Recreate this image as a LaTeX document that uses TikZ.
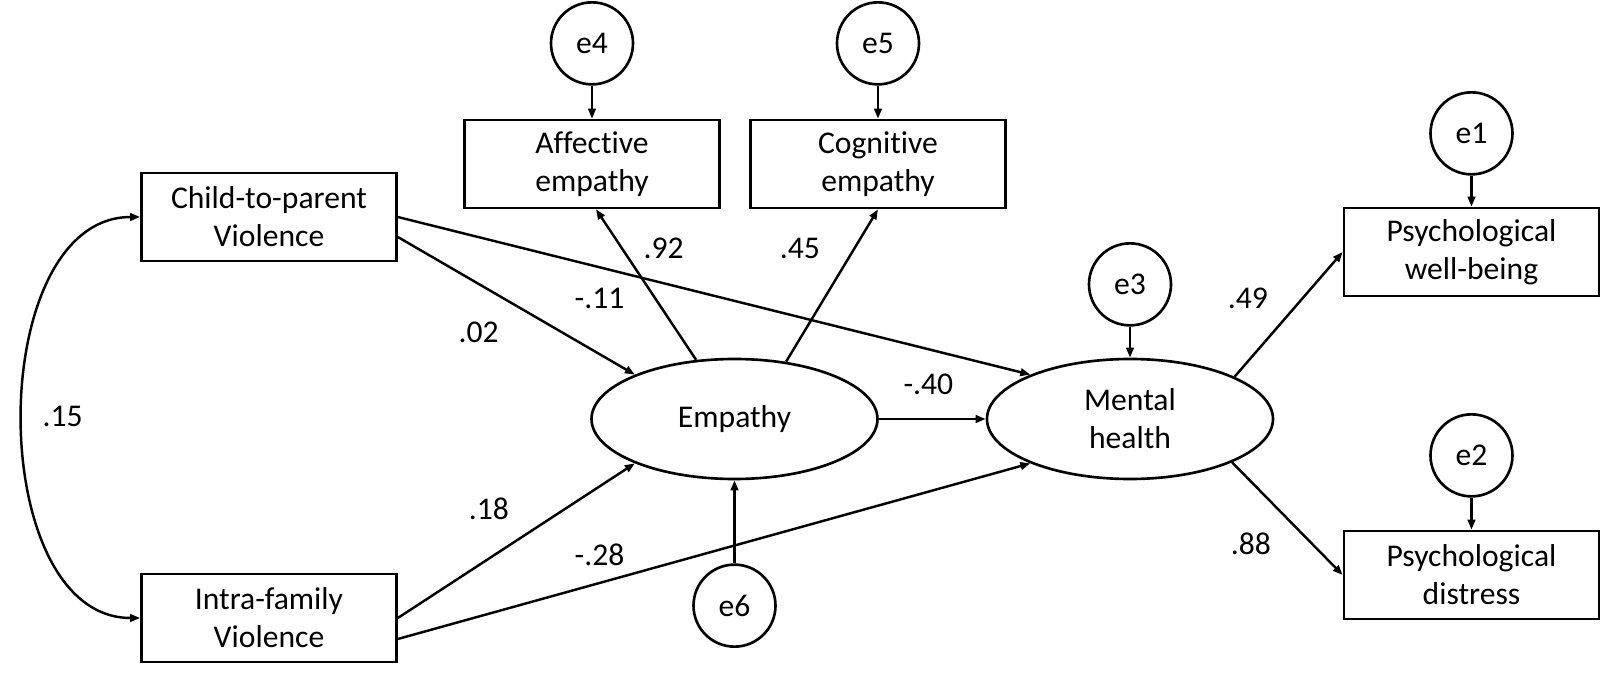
\documentclass[tikz,border=0pt]{standalone}
\usepackage{fontspec}
\setmainfont{Carlito}[Ligatures=NoCommon]
\usetikzlibrary{arrows.meta, shapes.geometric, positioning}
\tikzset{
    obs_box/.style={
        draw=black,
        line width=0.75pt,
        minimum width=2.55cm,
        minimum height=0.88cm,
        inner sep=2pt,
        align=center
    },
    latent_ell/.style={ellipse, draw=black, line width=0.75pt, minimum width=2.86cm, minimum height=1.2cm, inner sep=0pt, align=center},
    err_circ/.style={circle, draw=black, line width=0.75pt, minimum size=0.82cm, inner sep=0pt},
    path_arrow/.style={-{Triangle[length=0.1cm, width=0.075cm]}, line width=0.7pt},
    coef/.style={inner sep=0pt}
}

\begin{document}
\begin{tikzpicture}[font=\fontsize{9}{10.8}\selectfont]
    \useasboundingbox (0,0) rectangle (16.21,-6.73);

    % Observed predictors
    \node[obs_box] (ctp) at (2.69,-2.17) {Child-to-parent\\Violence};
    \node[obs_box] (ifv) at (2.69,-6.18) {Intra-family\\Violence};

    % Empathy indicators
    \node[obs_box] (aff) at (5.92,-1.64) {Affective\\empathy};
    \node[obs_box] (cog) at (8.78,-1.64) {Cognitive\\empathy};

    % Mental health indicators
    \node[obs_box] (pwb) at (14.715,-2.52) {Psychological\\well-being};
    \node[obs_box] (pdi) at (14.715,-5.75) {Psychological\\distress};

    % Latent variables
    \node[latent_ell] (emp) at (7.345,-4.19) {Empathy};
    \node[latent_ell] (mh) at (11.30,-4.19) {Mental\\health};

    % Error terms
    \node[err_circ, above=0.33cm of aff] (e4) {e4};
    \node[err_circ, above=0.33cm of cog] (e5) {e5};
    \node[err_circ, above=0.31cm of pwb] (e1) {e1};
    \node[err_circ, above=0.32cm of pdi] (e2) {e2};
    \node[err_circ, above=0.31cm of mh] (e3) {e3};
    \node[err_circ, below=0.83cm of emp] (e6) {e6};

    \draw[path_arrow] (e4) -- (aff);
    \draw[path_arrow] (e5) -- (cog);
    \draw[path_arrow] (e1) -- (pwb);
    \draw[path_arrow] (e2) -- (pdi);
    \draw[path_arrow] (e3) -- (mh);
    \draw[path_arrow] (e6) -- (emp);

    % Structural paths
    \draw[path_arrow] ([yshift=-0.2cm]ctp.east) -- (emp.156);
    \draw[path_arrow] (ctp.east) -- (mh.156);
    \draw[path_arrow] (ifv.east) -- (emp.204);
    \draw[path_arrow] ([yshift=-0.21cm]ifv.east) -- (mh.204);
    \draw[path_arrow] (emp) -- (mh);

    % Loadings
    \draw[path_arrow] (emp.123) -- ([xshift=0.04cm]aff.south);
    \draw[path_arrow] (emp.48) -- (cog.south);
    \draw[path_arrow] (mh.22) -- (pwb.west);
    \draw[path_arrow] (mh.-23) -- (pdi.west);

    % Covariance
    \draw[{Triangle[length=0.1cm, width=0.075cm]}-{Triangle[length=0.1cm, width=0.075cm]}, line width=0.7pt]
        (ctp.west) to[out=180, in=180] (ifv.west);

    % Coefficients
    \node[coef] (c15) at (0.626,-4.167) {.15};
    \node[coef] (c92) at (6.637,-2.48) {.92};
    \node[coef] (c45) at (8.00,-2.48) {.45};
    \node[coef] (c11) at (5.996,-2.988) {-.11};
    \node[coef] (c02) at (4.786,-3.319) {.02};
    \node[coef] (c40) at (9.284,-3.846) {-.40};
    \node[coef] (c18) at (4.89,-5.086) {.18};
    \node[coef] (c28) at (5.996,-5.55) {-.28};
    \node[coef] (c49) at (12.478,-2.988) {.49};
    \node[coef] (c88) at (12.51,-5.438) {.88};
\end{tikzpicture}
\end{document}
